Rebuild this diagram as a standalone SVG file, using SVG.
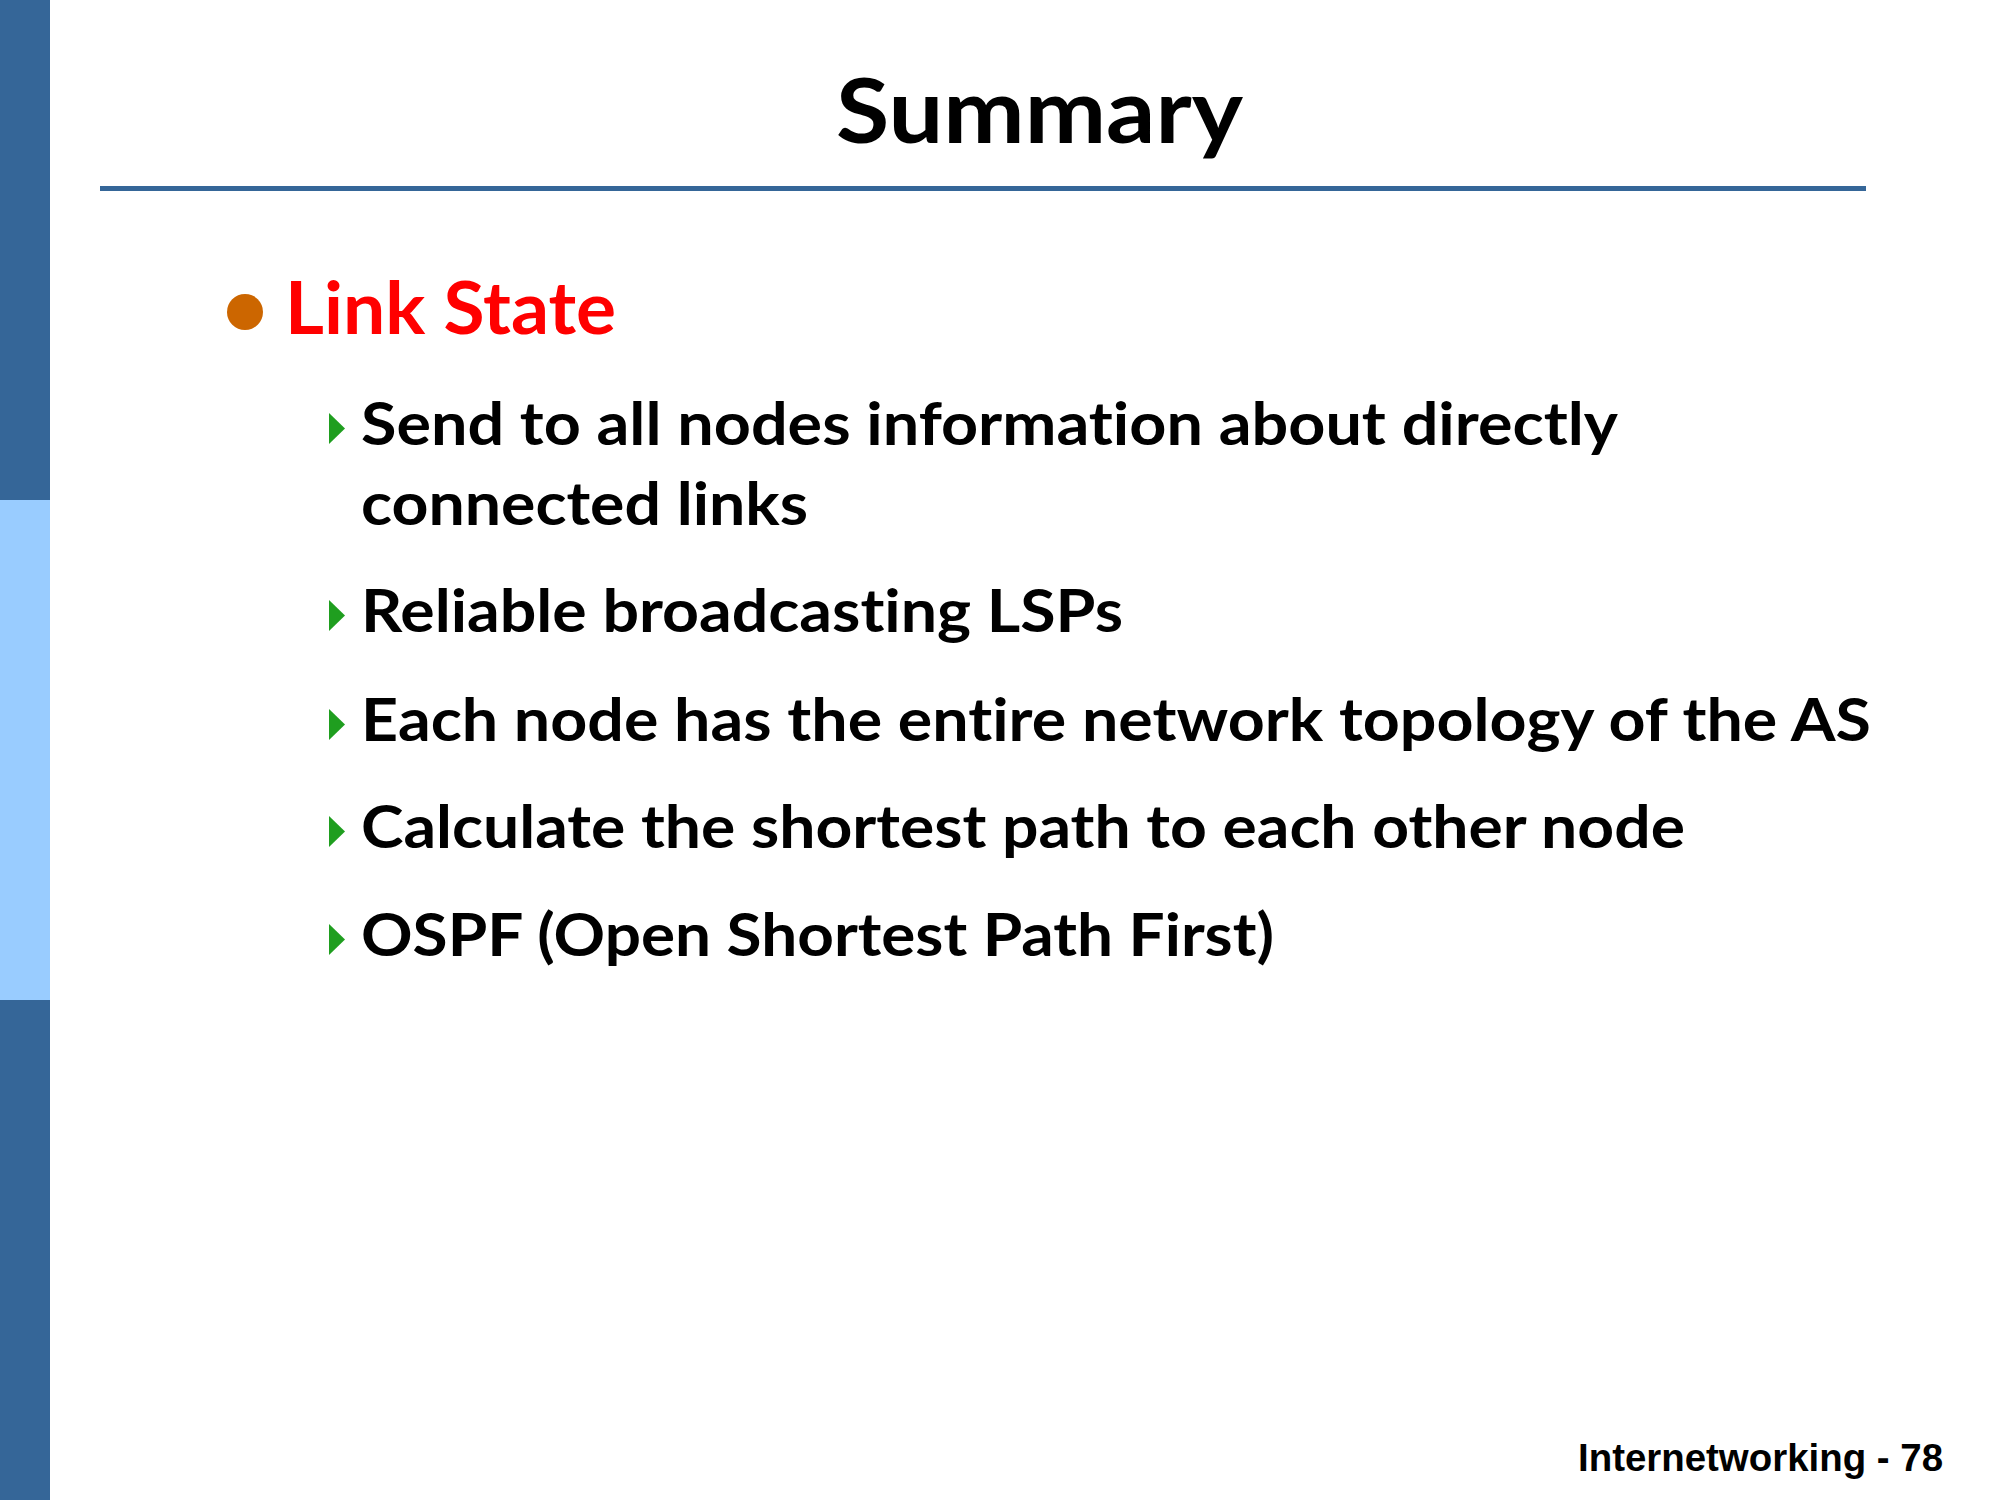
<svg xmlns="http://www.w3.org/2000/svg" width="2000" height="1500" viewBox="0 0 2000 1500">
<style>
.t{font-family:Lato,"Open Sans","DejaVu Sans",sans-serif;font-weight:700;font-variant-ligatures:none;font-feature-settings:"liga" 0,"clig" 0}
.sub{font-size:60px;fill:#000}
.arr{fill:#1F9E1F}
.foot{font-family:"Liberation Sans",Arial,sans-serif;font-weight:700;font-size:38.5px;fill:#000}
</style>
<rect x="0" y="0" width="2000" height="1500" fill="#fff"/>
<g id="sidebar">
<rect x="0" y="0" width="50" height="500" fill="#356698"/>
<rect x="0" y="500" width="50" height="500" fill="#99CCFF"/>
<rect x="0" y="1000" width="50" height="500" fill="#356698"/>
</g>
<g id="title">
<text class="t" x="836" y="143" font-size="90" textLength="407" lengthAdjust="spacingAndGlyphs">Summary</text>
<rect x="100" y="186" width="1766" height="5" fill="#356698"/>
</g>
<g id="link-state">
<circle cx="245" cy="312" r="18" fill="#CC6600"/>
<text class="t" x="285" y="334" font-size="72" fill="#FF0000" textLength="331" lengthAdjust="spacingAndGlyphs">Link State</text>
</g>
<g id="item1">
<polygon class="arr" points="329,413 345,428.5 329,444"/>
<text class="t sub" x="361" y="445" textLength="1257" lengthAdjust="spacingAndGlyphs">Send to all nodes information about directly</text>
<text class="t sub" x="361" y="525" textLength="447" lengthAdjust="spacingAndGlyphs">connected links</text>
</g>
<g id="item2">
<polygon class="arr" points="329,600 345,615.5 329,631"/>
<text class="t sub" x="361" y="632" textLength="762" lengthAdjust="spacingAndGlyphs">Reliable broadcasting LSPs</text>
</g>
<g id="item3">
<polygon class="arr" points="329,709 345,724.5 329,740"/>
<text class="t sub" x="361" y="741" textLength="1510" lengthAdjust="spacingAndGlyphs">Each node has the entire network topology of the AS</text>
</g>
<g id="item4">
<polygon class="arr" points="329,816 345,831.5 329,847"/>
<text class="t sub" x="361" y="848" textLength="1324" lengthAdjust="spacingAndGlyphs">Calculate the shortest path to each other node</text>
</g>
<g id="item5">
<polygon class="arr" points="329,924 345,939.5 329,955"/>
<text class="t sub" x="361" y="956" textLength="913" lengthAdjust="spacingAndGlyphs">OSPF (Open Shortest Path First)</text>
</g>
<g id="footer">
<text class="foot" x="1578" y="1471" textLength="365" lengthAdjust="spacingAndGlyphs">Internetworking - 78</text>
</g>
</svg>
